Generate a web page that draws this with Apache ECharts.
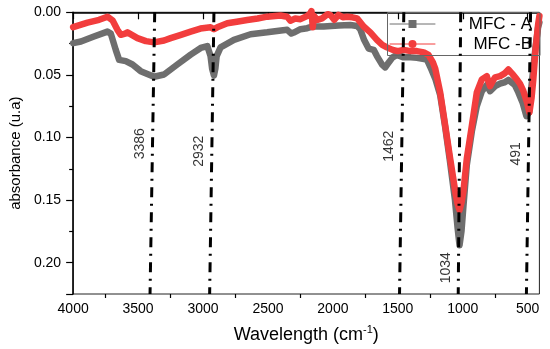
<!DOCTYPE html>
<html><head><meta charset="utf-8">
<script src="https://cdn.jsdelivr.net/npm/echarts@6/dist/echarts.min.js"></script>
<style>html,body{margin:0;padding:0;background:#fff}#c{width:550px;height:349px}</style>
</head><body><div id="c"></div>
<script>
const seriesNames = ['MFC - A', 'MFC -B'];
const wavenumberA = [4000,3940,3840,3736,3710,3672,3646,3595,3543,3480,3377,3300,3198,3095,3018,2967,2942,2930,2916,2905,2895,2865,2762,2634,2506,2400,2352,2320,2301,2250,2198,2160,2071,1957,1866,1814,1789,1760,1725,1686,1661,1620,1597,1570,1540,1507,1456,1400,1353,1276,1240,1212,1174,1135,1100,1060,1040,1025,1010,995,969,930,892,853,815,790,751,713,680,649,600,572,540,510,490,470,440,420,410];
const absorbanceA = [0.0246,0.0233,0.0193,0.0154,0.017,0.030,0.038,0.039,0.0417,0.047,0.0515,0.0497,0.0417,0.0338,0.0285,0.027,0.035,0.045,0.0505,0.045,0.035,0.028,0.022,0.0175,0.016,0.0145,0.014,0.017,0.0162,0.0135,0.0127,0.0114,0.0114,0.0105,0.0102,0.011,0.0136,0.022,0.029,0.030,0.035,0.042,0.044,0.040,0.036,0.034,0.036,0.036,0.0364,0.0378,0.046,0.053,0.066,0.092,0.118,0.150,0.172,0.186,0.175,0.155,0.122,0.095,0.075,0.063,0.058,0.063,0.059,0.057,0.056,0.054,0.058,0.064,0.072,0.083,0.080,0.058,0.028,0.012,0.008];
const wavenumberB = [4000,3889,3800,3736,3697,3659,3633,3600,3582,3505,3440,3377,3300,3249,3170,3095,3020,2942,2916,2890,2813,2740,2660,2580,2506,2404,2352,2327,2290,2250,2200,2175,2165,2155,2145,2120,2083,2040,2019,1990,1957,1920,1891,1850,1814,1763,1712,1661,1620,1584,1540,1500,1456,1400,1353,1300,1264,1230,1212,1174,1135,1097,1058,1040,1025,1010,995,969,930,892,853,815,790,770,751,713,680,649,620,584,560,533,505,487,470,457,440,420,410];
const absorbanceB = [0.0119,0.0082,0.006,0.0035,0.0064,0.014,0.018,0.017,0.016,0.0206,0.023,0.024,0.0225,0.0206,0.018,0.0154,0.013,0.0119,0.0135,0.012,0.0088,0.0075,0.0062,0.005,0.0035,0.0025,0.0035,0.0067,0.005,0.0055,0.003,0.001,-0.001,0.012,0.003,0.006,0.0048,0.0015,0.0022,0.006,0.002,0.004,0.0035,0.004,0.0048,0.0114,0.016,0.022,0.026,0.028,0.030,0.031,0.030,0.031,0.031,0.032,0.034,0.040,0.045,0.064,0.0906,0.117,0.143,0.153,0.158,0.152,0.143,0.117,0.0906,0.064,0.0536,0.051,0.059,0.055,0.052,0.051,0.049,0.0457,0.049,0.0536,0.057,0.063,0.072,0.080,0.068,0.0536,0.030,0.010,0.003];
const peakLabels = ['3386','2932','1462','1034','491'];
const peakTopX = [3372, 2916, 1454, 1016, 478];
const peakBottomX = [3408, 2949, 1487, 1035, 510];
const peakLabelY = [0.105, 0.111, 0.107, 0.204, 0.113];
const xMajorTicks = [500,1000,1500,2000,2500,3000,3500,4000];
const xMinorTicks = [750,1250,1750,2250,2750,3250,3750];
const yTickLabels = ['0.00','0.05','0.10','0.15','0.20'];
const xMin = 410, xMax = 4000, yMin = 0, yMax = 0.225;

const zip = (xs, ys) => xs.map((x, i) => [x, ys[i]]);
const font = "'Liberation Sans', Arial, sans-serif";

const peakSeries = peakLabels.map((lab, i) => ({
  type: 'line', silent: true, symbol: 'none', z: 5,
  data: [[peakTopX[i], yMin], [peakBottomX[i], yMax]],
  lineStyle: {color: '#000', width: 3, type: [10, 6.5, 2, 6.5]}
}));
const labelSeries = {
  type: 'scatter', symbolSize: 0, silent: true, z: 6,
  data: peakLabels.map((lab, i) => {
    const t = (peakLabelY[i] - yMin) / (yMax - yMin);
    return {value: [peakTopX[i] + (peakBottomX[i] - peakTopX[i]) * t, peakLabelY[i]], name: lab};
  }),
  label: {show: true, formatter: p => p.name, position: 'left', distance: 12.5, rotate: 90,
    align: 'center', verticalAlign: 'middle', fontSize: 14, color: '#000', fontFamily: font}
};

const chart = echarts.init(document.getElementById('c'));
chart.setOption({
  animation: false,
  grid: {left: 72.3, right: 10.6, top: 12.3, bottom: 54, show: true, borderColor: '#222', borderWidth: 1},
  legend: {
    data: seriesNames, orient: 'vertical', right: 10, top: 12.5,
    padding: [3, 8, 3, 2], itemGap: 3, itemWidth: 45, itemHeight: 10,
    borderColor: '#666', borderWidth: 1, backgroundColor: 'transparent',
    lineStyle: {width: 1},
    formatter: n => '{r|' + n + '}',
    textStyle: {fontSize: 17, lineHeight: 16, color: '#000', fontFamily: font,
      rich: {r: {fontSize: 17, lineHeight: 16, width: 92, align: 'right', color: '#000', fontFamily: font}}}
  },
  xAxis: [{
    type: 'value', min: xMin, max: xMax, inverse: true,
    name: '{a|Wavelength (cm}{s|-1}{a|)}', nameLocation: 'middle', nameGap: 30,
    nameTextStyle: {fontFamily: font, color: '#000', rich: {
      a: {fontSize: 18, lineHeight: 22, fontFamily: font, color: '#000'},
      s: {fontSize: 11, lineHeight: 11, verticalAlign: 'top', fontFamily: font, color: '#000'}}},
    axisLine: {lineStyle: {color: '#000', width: 1.5}},
    axisTick: {show: true, length: 7, customValues: xMajorTicks, lineStyle: {color: '#000', width: 1.2}},
    axisLabel: {customValues: xMajorTicks, formatter: v => String(v), fontSize: 14, color: '#000', fontFamily: font, margin: 8},
    splitLine: {show: false}
  }, {
    type: 'value', min: xMin, max: xMax, inverse: true, position: 'bottom',
    axisLine: {show: false},
    axisTick: {show: true, length: 4, customValues: xMinorTicks, lineStyle: {color: '#000', width: 1.2}},
    axisLabel: {show: false}, splitLine: {show: false}
  }],
  yAxis: {
    type: 'value', min: yMin, max: yMax, interval: 0.05, inverse: true,
    name: 'absorbance (u.a)', nameLocation: 'middle', nameGap: 47,
    nameTextStyle: {fontSize: 15, color: '#000', fontFamily: font},
    axisLine: {show: true, lineStyle: {color: '#000', width: 1.5}},
    axisTick: {show: true, length: 7, lineStyle: {color: '#000', width: 1.2}},
    minorTick: {show: true, splitNumber: 2, length: 4, lineStyle: {color: '#000', width: 1.2}},
    axisLabel: {showMaxLabel: false, formatter: v => yTickLabels[Math.round(v / 0.05)] || '',
      fontSize: 14, color: '#000', fontFamily: font, margin: 12},
    splitLine: {show: false}, minorSplitLine: {show: false}
  },
  series: [
    {name: seriesNames[0], type: 'line', data: zip(wavenumberA, absorbanceA), symbol: 'rect', showSymbol: false,
     clip: false, color: '#6e6e6e', lineStyle: {width: 6.5, color: '#6e6e6e', join: 'round', cap: 'round'}, z: 2},
    {name: seriesNames[1], type: 'line', data: zip(wavenumberB, absorbanceB), symbol: 'circle', showSymbol: false,
     clip: false, color: '#f23d3d', lineStyle: {width: 6.5, color: '#f23d3d', join: 'round', cap: 'round'}, z: 3},
    ...peakSeries,
    labelSeries
  ]
});
</script></body></html>
